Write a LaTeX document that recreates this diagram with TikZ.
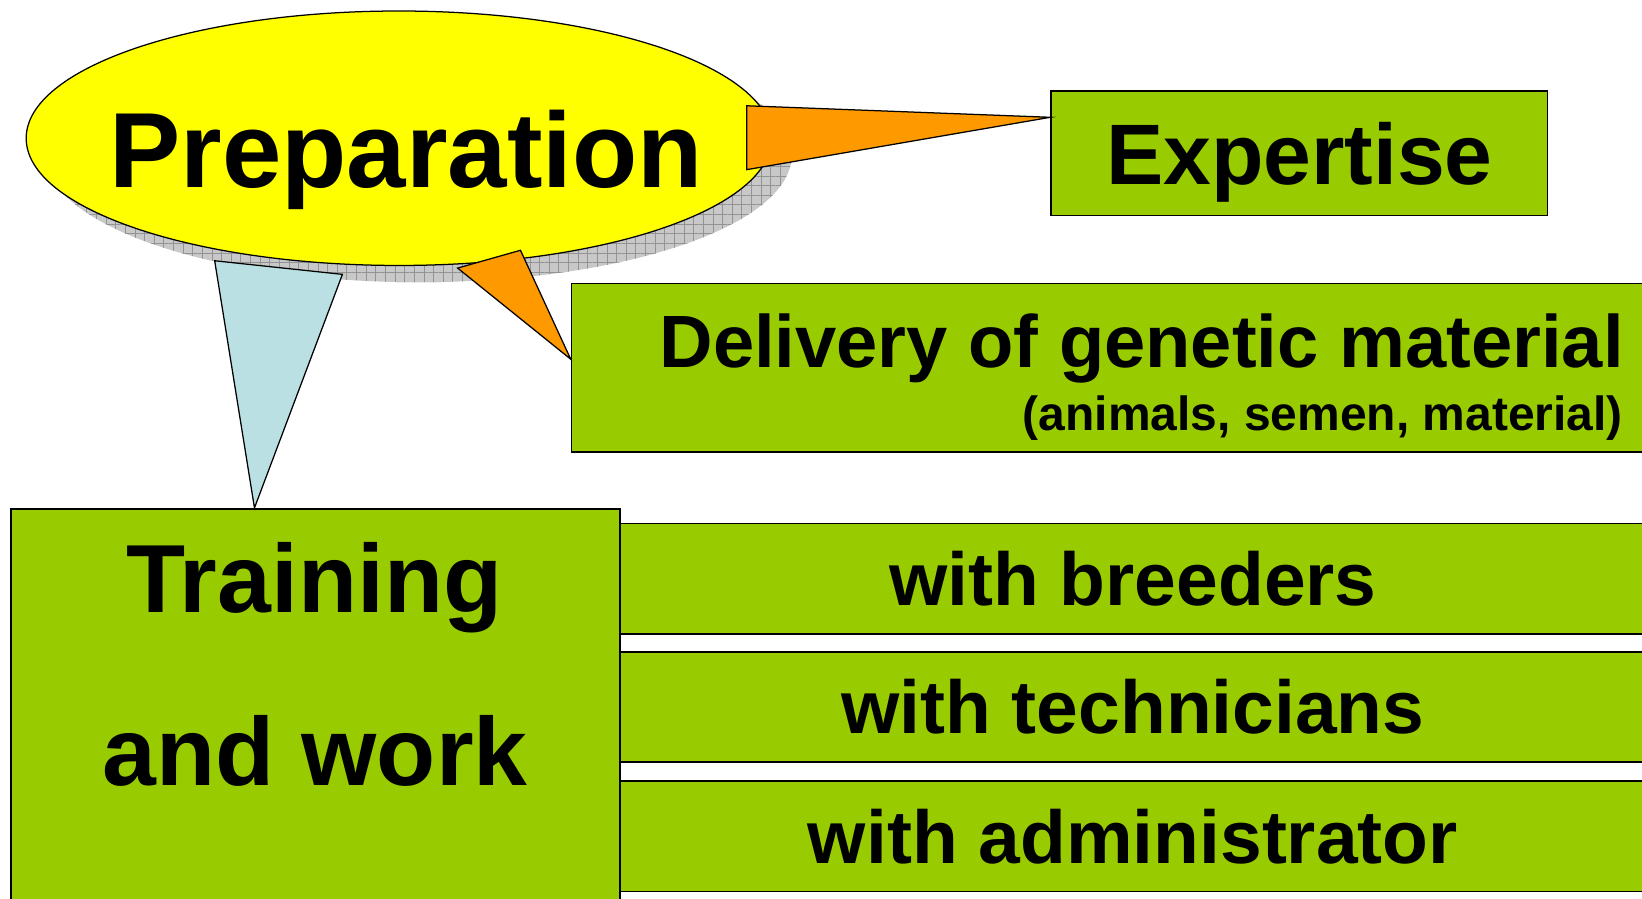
\documentclass[tikz,border=0pt]{standalone}
\usepackage{fontspec}
\setmainfont{Liberation Sans}
\usetikzlibrary{shapes.geometric, positioning, calc, patterns.meta}

\definecolor{leaf}{RGB}{153,204,0}
\definecolor{sunny}{RGB}{255,255,0}
\definecolor{tangerine}{RGB}{255,153,0}
\definecolor{icy}{RGB}{187,224,227}
\definecolor{shade}{RGB}{200,200,200}

\tikzset{
  greenbox/.style={draw, line width=0.8pt, fill=leaf, rectangle, inner sep=0pt, anchor=north west},
  callout/.style={draw, line width=0.6pt},
  bigtxt/.style={font=\bfseries\fontsize{#1}{#1}\selectfont, inner sep=0pt, anchor=base},
  hatch/.style={postaction={pattern={Lines[distance=4.6pt, angle=#1, line width=0.35pt]}, pattern color=gray!85}},
}

\begin{document}
\begin{tikzpicture}[x=0.5pt, y=-0.5pt]
    \useasboundingbox (0,0) rectangle (1568,858);
    \clip (0,0) rectangle (1568,858);
    % Blase mit Schatten
    \node[ellipse, fill=shade, hatch=0, hatch=90, minimum width=356pt, minimum height=121.5pt, inner sep=0pt] (prepshadow) at (400,148) {};
    \node[ellipse, draw, line width=0.6pt, fill=sunny, minimum width=356pt, minimum height=121.5pt, inner sep=0pt] (prep) at (381,132) {};
    \node[bigtxt=51] (preptxt) at (388,179) {Preparation};
    % Kaesten rechts oben
    \node[greenbox, minimum width=237pt, minimum height=59.5pt, font=\bfseries\fontsize{41}{41}\selectfont, text height=29.4pt, text depth=0pt] (expertise) at (1003,86) {Expertise};
    \node[greenbox, minimum width=520pt, minimum height=80.5pt] (delivery) at (545,270) {};
    \node[bigtxt=35.4, anchor=base east] (deliverytxt) at (1551,350.5) {Delivery of genetic material};
    \node[bigtxt=22.9, anchor=base east] (deliverysub) at (1550,411) {(animals, semen, material)};
    % Training
    \node[greenbox, minimum width=290.5pt, minimum height=200pt] (training) at (10,485) {};
    \node[bigtxt=46.2] (traintxt) at (300,585) {Training};
    \node[bigtxt=46.2] (worktxt) at (301,750) {and work};
    \foreach \name/\top/\txt in {breeders/499/with breeders, technicians/621.5/with technicians, admin/745/with administrator}
        \node[greenbox, minimum width=490pt, minimum height=52.8pt, font=\bfseries\fontsize{35.8}{36}\selectfont, text height=25.6pt, text depth=0pt] (\name) at (591,\top) {\txt};
    % Zeiger
    \coordinate (expa) at (713,101);
    \coordinate (expb) at (713,162);
    \draw[callout, fill=tangerine] (expa) -- ($(expertise.north west)+(0,26)$) -- (expb) -- cycle;
    \coordinate (dela) at (437,256);
    \coordinate (delb) at (497,239);
    \draw[callout, fill=tangerine] (dela) -- (delb) -- ($(delivery.north west)+(0,73)$) -- cycle;
    \coordinate (traina) at (205,249);
    \coordinate (trainb) at (327,262);
    \draw[callout, fill=icy] (traina) -- (trainb) -- ($(training.north west)+(233,0)$) -- cycle;
\end{tikzpicture}
\end{document}
